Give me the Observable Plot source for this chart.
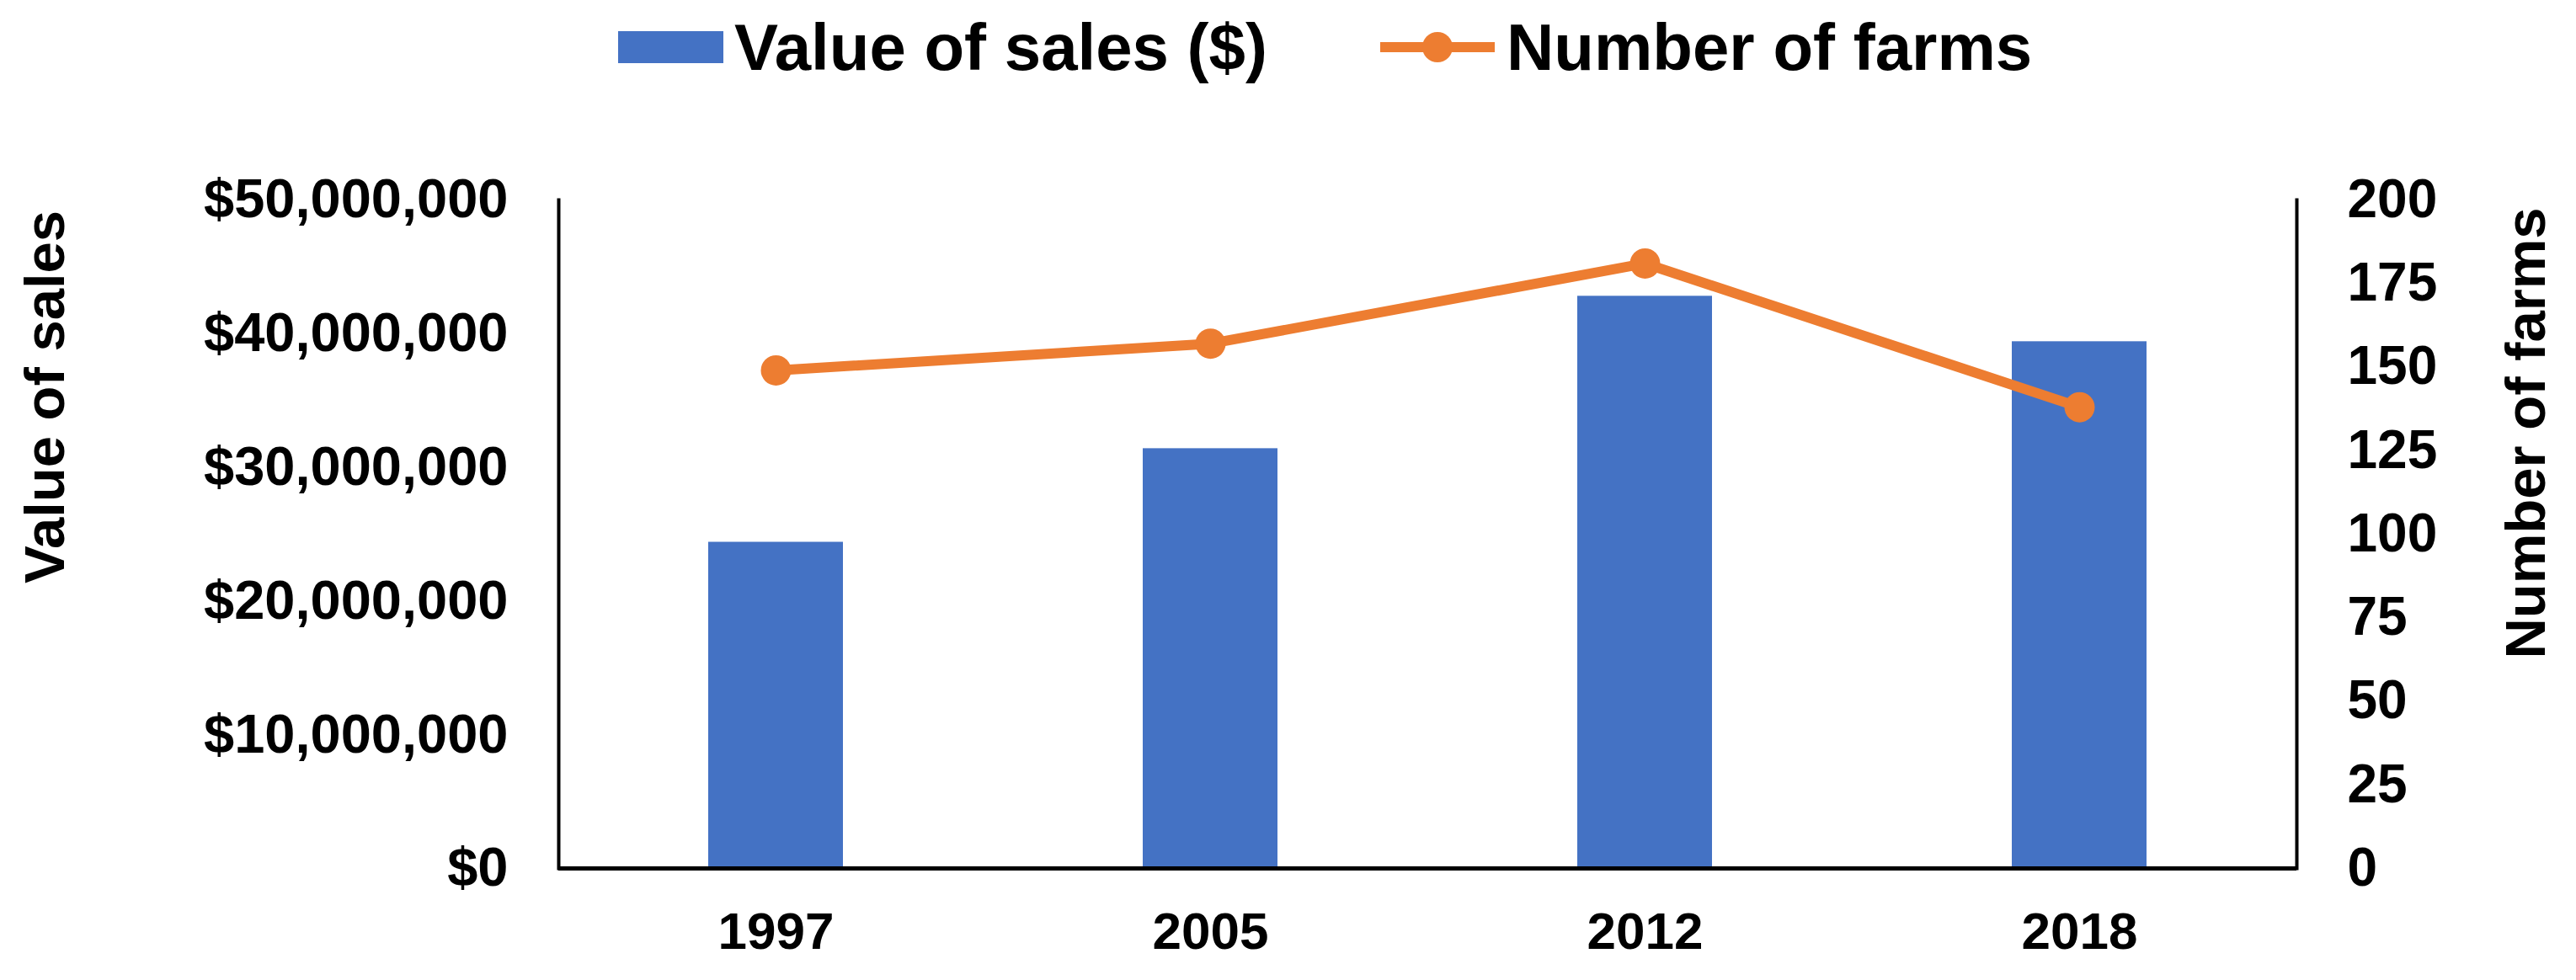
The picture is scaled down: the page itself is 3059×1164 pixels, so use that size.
<!DOCTYPE html>
<html><head><meta charset="utf-8">
<script src="https://cdn.jsdelivr.net/npm/d3@7"></script>
<script src="https://cdn.jsdelivr.net/npm/@observablehq/plot@0.6"></script>
<style>
body{margin:0;background:#fff;font-family:"Liberation Sans",Arial,sans-serif;font-weight:bold;color:#000;}
#legend{position:relative;width:3059px;height:110px;}
.item{position:absolute;top:0;height:112px;display:flex;align-items:center;font-size:78px;white-space:nowrap;}
</style></head><body>
<div id="legend"></div>
<div id="chart"></div>
<script>
// ---- data ----
const years = ["1997", "2005", "2012", "2018"];
const salesValues = [24400000, 31400000, 42800000, 39400000];
const farmCounts = [149, 157, 181, 138];
const salesTicks = [0, 10000000, 20000000, 30000000, 40000000, 50000000];
const farmTicks = [0, 25, 50, 75, 100, 125, 150, 175, 200];
const seriesNames = ["Value of sales ($)", "Number of farms"];
const axisTitles = ["Value of sales", "Number of farms"];
const colors = ["#4472C4", "#ED7D31"];

const salesMax = 50000000, farmsMax = 200;
const k = salesMax / farmsMax;
const rows = years.map((y, i) => ({year: y, sales: salesValues[i], farms: farmCounts[i], farmsScaled: farmCounts[i] * k}));

// ---- legend ----
const legend = document.getElementById("legend");
legend.innerHTML = `
<div class="item" style="left:734px"><span style="display:inline-block;width:125px;height:38px;background:${colors[0]};margin-right:13px"></span>${seriesNames[0]}</div>
<div class="item" style="left:1639px"><svg width="136" height="40" style="margin-right:14px"><line x1="0" x2="136" y1="20" y2="20" stroke="${colors[1]}" stroke-width="12"/><circle cx="68" cy="20" r="18" fill="${colors[1]}"/></svg>${seriesNames[1]}</div>`;

// ---- chart ----
const font = "'Liberation Sans', Arial, sans-serif";
const chart = Plot.plot({
  width: 3059,
  height: 1054,
  marginTop: 127,
  marginBottom: 133,
  marginLeft: 663,
  marginRight: 332,
  style: {fontFamily: font, fontWeight: "bold", fontSize: "60px", color: "#000", background: "#fff"},
  x: {domain: years, paddingInner: 0.69, paddingOuter: 0.345, label: null},
  y: {domain: [0, salesMax], label: null},
  marks: [
    Plot.barY(rows, {x: "year", y: "sales", fill: colors[0]}),
    Plot.frame({anchor: "left", stroke: "#000", strokeWidth: 4}),
    Plot.frame({anchor: "right", stroke: "#000", strokeWidth: 4}),
    Plot.ruleY([0], {stroke: "#000", strokeWidth: 5}),
    Plot.line(rows, {x: "year", y: "farmsScaled", stroke: colors[1], strokeWidth: 12}),
    Plot.dot(rows, {x: "year", y: "farmsScaled", r: 18, fill: colors[1], stroke: "none"}),
    Plot.axisX({tickSize: 0, tickPadding: 51, fontSize: 62, label: null}),
    Plot.axisY(salesTicks, {anchor: "left", tickSize: 0, tickPadding: 60, tickFormat: d3.format("$,"), fontSize: 65, label: null}),
    Plot.axisY(farmTicks.map(d => d * k), {anchor: "right", tickSize: 0, tickPadding: 60, tickFormat: d => d3.format("d")(d / k), fontSize: 64, label: null}),
    Plot.text([axisTitles[0]], {frameAnchor: "left", textAnchor: "middle", rotate: -90, dx: -609, dy: -163, fontSize: 67, fontWeight: "bold", fill: "#000"}),
    Plot.text([axisTitles[1]], {frameAnchor: "right", textAnchor: "middle", rotate: -90, dx: 273, dy: -120, fontSize: 67, fontWeight: "bold", fill: "#000"})
  ]
});
document.getElementById("chart").appendChild(chart);
</script>
</body></html>
